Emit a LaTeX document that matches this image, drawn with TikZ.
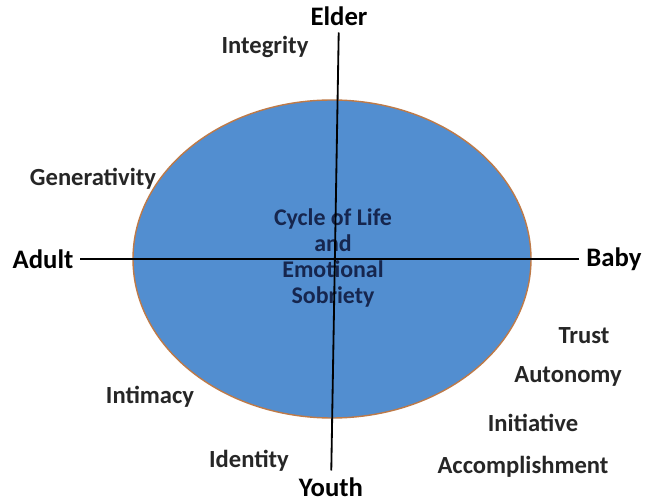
\documentclass[tikz,border=0pt]{standalone}
\usepackage{fontspec}
\setmainfont{Carlito}
\usetikzlibrary{calc}
\definecolor{cycleblue}{RGB}{82,142,208}
\definecolor{rimbrown}{RGB}{190,122,72}
\definecolor{navy}{RGB}{22,38,78}
\begin{document}
\begin{tikzpicture}[x=0.025cm,y=-0.025cm]
 \tikzset{stage/.style={font=\fontsize{17.5}{20}\selectfont\bfseries,text=black!85,inner sep=1pt}}
 \tikzset{axis/.style={font=\fontsize{19}{21}\selectfont\bfseries,inner sep=1pt,outer sep=4pt}}
 \useasboundingbox (0,0) rectangle (646,504);
 \fill[white] (0,0) rectangle (646,504);
 \draw[fill=cycleblue,draw=rimbrown,line width=1pt] (332,259) ellipse [x radius=199, y radius=159];
 \node[align=center,text=navy,font=\fontsize{17}{18.5}\selectfont\bfseries] (centre) at (333,258) {Cycle of Life\\and\\Emotional\\Sobriety};
 \node[axis] (elder) at (339,16) {Elder};
 \node[axis] (youth) at (331,487) {Youth};
 \node[axis] (adult) at (43,259) {Adult};
 \node[axis] (baby) at (614,259) {Baby};
 \node[stage] (integrity) at (265,47) {Integrity};
 \node[stage] (generativity) at (93,179) {Generativity};
 \node[stage] (intimacy) at (150,397) {Intimacy};
 \node[stage] (identity) at (249,461) {Identity};
 \node[stage] (trust) at (584,336) {Trust};
 \node[stage] (autonomy) at (568,376) {Autonomy};
 \node[stage] (initiative) at (533,423) {Initiative};
 \node[stage] (accomplishment) at (523,467) {Accomplishment};
 \draw[line width=1.3pt](elder) -- (youth);
 \draw[line width=1.3pt](adult) -- (baby);
\end{tikzpicture}
\end{document}
